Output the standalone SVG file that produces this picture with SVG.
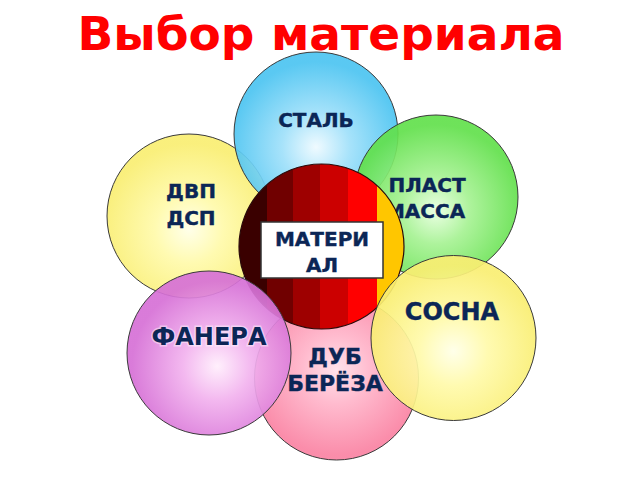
<svg xmlns="http://www.w3.org/2000/svg" width="640" height="480" viewBox="0 0 640 480">
<defs>
<radialGradient id="gBlue" cx="50%" cy="58%" r="52%"><stop offset="0" stop-color="#eefaff"/><stop offset="0.4" stop-color="#9fe0fa"/><stop offset="1" stop-color="#4cc4f1"/></radialGradient>
<radialGradient id="gGreen" cx="50%" cy="58%" r="52%"><stop offset="0" stop-color="#eaffe2"/><stop offset="0.4" stop-color="#a6f293"/><stop offset="1" stop-color="#62e04c"/></radialGradient>
<radialGradient id="gYellow" cx="50%" cy="58%" r="52%"><stop offset="0" stop-color="#ffffe8"/><stop offset="0.4" stop-color="#fffaaa"/><stop offset="1" stop-color="#f9ee72"/></radialGradient>
<radialGradient id="gPink" cx="50%" cy="45%" r="52%"><stop offset="0" stop-color="#ffdfe9"/><stop offset="0.4" stop-color="#ffb5ca"/><stop offset="1" stop-color="#fa83a3"/></radialGradient>
<radialGradient id="gViolet" cx="55%" cy="58%" r="52%"><stop offset="0" stop-color="#ffeefc"/><stop offset="0.4" stop-color="#f2b2ee"/><stop offset="1" stop-color="#d670d6"/></radialGradient>
<clipPath id="redClip"><circle cx="321.5" cy="246.5" r="82.5"/></clipPath>
</defs>
<style>
.c{stroke:#3a3a3a;stroke-width:1;fill-opacity:0.92}
.t{font-family:"DejaVu Sans","Verdana",sans-serif;font-weight:bold;fill:#0b2656;text-anchor:middle;stroke:#0b2656;stroke-width:0.4}
.title{font-family:"DejaVu Sans",sans-serif;font-weight:bold;fill:#ff0000;text-anchor:middle;font-size:47px}
</style>
<rect width="640" height="480" fill="#ffffff"/>
<text class="title" x="321" y="50">Выбор материала</text>
<g id="node-dvp">
<circle class="c" cx="189" cy="216" r="82" fill="url(#gYellow)"/>
<text class="t" x="191" y="198" font-size="20">ДВП</text>
<text class="t" x="191" y="225" font-size="20">ДСП</text>
</g>
<g id="node-stal">
<circle class="c" cx="316" cy="134" r="82" fill="url(#gBlue)"/>
<text class="t" x="316" y="127" font-size="20">СТАЛЬ</text>
</g>
<g id="node-plast">
<circle class="c" cx="436" cy="197" r="82" fill="url(#gGreen)"/>
<text class="t" x="427" y="192" font-size="20">ПЛАСТ</text>
<text class="t" x="425" y="218" font-size="20">МАССА</text>
</g>
<g id="node-dub">
<circle class="c" cx="336.5" cy="378" r="82" fill="url(#gPink)"/>
<text class="t" x="335" y="364" font-size="22">ДУБ</text>
<text class="t" x="335" y="391" font-size="22">БЕРЁЗА</text>
</g>
<g id="node-material">
<g clip-path="url(#redClip)">
<rect x="238" y="160" width="29" height="175" fill="#3a0000"/>
<rect x="267" y="160" width="26" height="175" fill="#700000"/>
<rect x="293" y="160" width="27" height="175" fill="#9e0000"/>
<rect x="320" y="160" width="28" height="175" fill="#cc0000"/>
<rect x="348" y="160" width="29" height="175" fill="#ff0000"/>
<rect x="377" y="160" width="30" height="175" fill="#ffc600"/>
</g>
<circle cx="321.5" cy="246.5" r="82.5" fill="none" stroke="#2a0a0a" stroke-width="1.2"/>
</g>
<g id="node-fanera">
<circle class="c" cx="209" cy="353" r="82" fill="url(#gViolet)"/>
<text class="t" x="209" y="345" font-size="24" style="paint-order:stroke;stroke:#ffffff;stroke-width:3;stroke-opacity:0.45">ФАНЕРА</text>
</g>
<g id="node-sosna">
<circle class="c" cx="453.5" cy="338" r="82.5" fill="url(#gYellow)" fill-opacity="0.86"/>
<text class="t" x="452" y="320" font-size="24">СОСНА</text>
</g>
<g id="node-label">
<rect x="261" y="222" width="122" height="56" fill="#ffffff" stroke="#333333" stroke-width="1.5"/>
<text class="t" x="322" y="246" font-size="20">МАТЕРИ</text>
<text class="t" x="322" y="272" font-size="20">АЛ</text>
</g>
<g id="connectors"/>
</svg>
